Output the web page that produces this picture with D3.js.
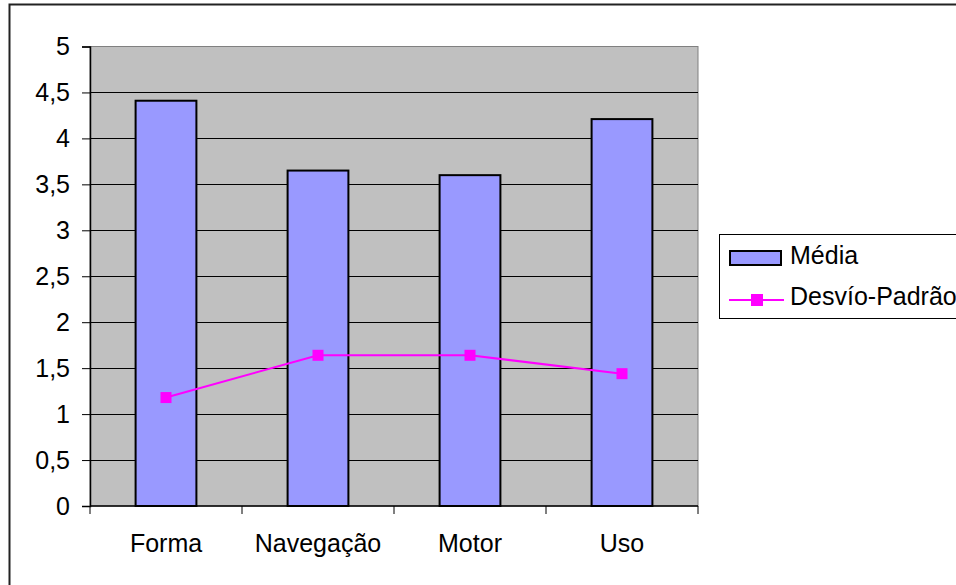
<!DOCTYPE html>
<html>
<head>
<meta charset="utf-8">
<script src="https://cdn.jsdelivr.net/npm/d3@7/dist/d3.min.js"></script>
<style>
  html, body { margin: 0; padding: 0; background: #fff; overflow: hidden; }
  svg { display: block; font-family: "Liberation Sans", Arial, sans-serif; }
</style>
</head>
<body>
<svg id="chart" width="956" height="585"></svg>
<script>
// Categories and series
const categories = ["Forma", "Navegação", "Motor", "Uso"];
const media = [4.41, 3.65, 3.6, 4.21];
const desvio = [1.18, 1.64, 1.64, 1.44];
const yTicks = [0, 0.5, 1, 1.5, 2, 2.5, 3, 3.5, 4, 4.5, 5];
const seriesNames = ["Média", "Desvío-Padrão"];

const svg = d3.select("#chart");
const plot = { left: 90, right: 698, top: 46.5, bottom: 506 };
const fontSize = 25;

const x = d3.scaleBand().domain(categories).range([plot.left, plot.right]).padding(0);
const y = d3.scaleLinear().domain([0, 5]).range([plot.bottom, plot.top]);
const fmt = v => String(v).replace(".", ",");

// Outer chart frame (only top and left edges fall inside the view)
svg.append("rect")
  .attr("x", 9.5).attr("y", 4.5)
  .attr("width", 1100).attr("height", 700)
  .attr("fill", "#fff").attr("stroke", "#222").attr("stroke-width", 2);

// Plot background
svg.append("rect")
  .attr("x", plot.left).attr("y", plot.top)
  .attr("width", plot.right - plot.left).attr("height", plot.bottom - plot.top)
  .attr("fill", "#c0c0c0").attr("stroke", "#808080").attr("stroke-width", 1);

// Horizontal gridlines
svg.append("g").selectAll("line")
  .data(yTicks.filter(d => d > 0 && d < 5))
  .join("line")
  .attr("x1", plot.left).attr("x2", plot.right)
  .attr("y1", d => Math.round(y(d)) + 0.5).attr("y2", d => Math.round(y(d)) + 0.5)
  .attr("stroke", "#000").attr("stroke-width", 1.2);

// Y axis
const yAxis = svg.append("g")
  .attr("transform", `translate(${plot.left},0)`)
  .call(d3.axisLeft(y).tickValues(yTicks).tickFormat(fmt).tickSize(8).tickPadding(12));
yAxis.select(".domain").attr("stroke", "#000").attr("stroke-width", 1.5);
yAxis.selectAll(".tick line").attr("stroke", "#000");
yAxis.selectAll(".tick text")
  .attr("font-size", fontSize).attr("fill", "#000")
  .attr("font-family", "Liberation Sans, Arial, sans-serif");

// Bars
const barW = x.bandwidth() * 0.4;
svg.append("g").selectAll("rect")
  .data(categories.map((c, i) => ({ c, v: media[i] })))
  .join("rect")
  .attr("x", d => x(d.c) + (x.bandwidth() - barW) / 2)
  .attr("width", barW)
  .attr("y", d => y(d.v))
  .attr("height", d => y(0) - y(d.v))
  .attr("fill", "#9999ff").attr("stroke", "#000").attr("stroke-width", 2);

// X axis with ticks at category boundaries
const xAxisG = svg.append("g").attr("transform", `translate(0,${plot.bottom})`);
xAxisG.append("line")
  .attr("x1", plot.left).attr("x2", plot.right).attr("y1", 0).attr("y2", 0)
  .attr("stroke", "#000").attr("stroke-width", 1.5);
const bounds = categories.map(c => x(c)).concat([plot.right]);
xAxisG.selectAll("line.tick")
  .data(bounds).join("line").attr("class", "tick")
  .attr("x1", d => d).attr("x2", d => d).attr("y1", 0).attr("y2", 8)
  .attr("stroke", "#000").attr("stroke-width", 1);
xAxisG.selectAll("text")
  .data(categories).join("text")
  .attr("x", d => x(d) + x.bandwidth() / 2)
  .attr("y", 46)
  .attr("text-anchor", "middle")
  .attr("font-size", fontSize).attr("fill", "#000")
  .text(d => d);

// Line series with square markers
const pts = categories.map((c, i) => [x(c) + x.bandwidth() / 2, y(desvio[i])]);
svg.append("path")
  .attr("d", d3.line()(pts))
  .attr("fill", "none").attr("stroke", "#ff00ff").attr("stroke-width", 2);
svg.append("g").selectAll("rect")
  .data(pts).join("rect")
  .attr("x", d => d[0] - 5.5).attr("y", d => d[1] - 5.5)
  .attr("width", 11).attr("height", 11)
  .attr("fill", "#ff00ff");

// Legend
const lg = svg.append("g");
lg.append("rect")
  .attr("x", 719.5).attr("y", 234.5).attr("width", 300).attr("height", 84)
  .attr("fill", "#fff").attr("stroke", "#000").attr("stroke-width", 1);
lg.append("rect")
  .attr("x", 730).attr("y", 251).attr("width", 51).attr("height", 14)
  .attr("fill", "#9999ff").attr("stroke", "#000").attr("stroke-width", 2);
lg.append("line")
  .attr("x1", 729).attr("x2", 784).attr("y1", 300).attr("y2", 300)
  .attr("stroke", "#ff00ff").attr("stroke-width", 2);
lg.append("rect")
  .attr("x", 751).attr("y", 294).attr("width", 12).attr("height", 12)
  .attr("fill", "#ff00ff");
lg.selectAll("text")
  .data(seriesNames).join("text")
  .attr("x", 790)
  .attr("y", (d, i) => i === 0 ? 264 : 305)
  .attr("font-size", fontSize).attr("fill", "#000")
  .text(d => d);
</script>
</body>
</html>
